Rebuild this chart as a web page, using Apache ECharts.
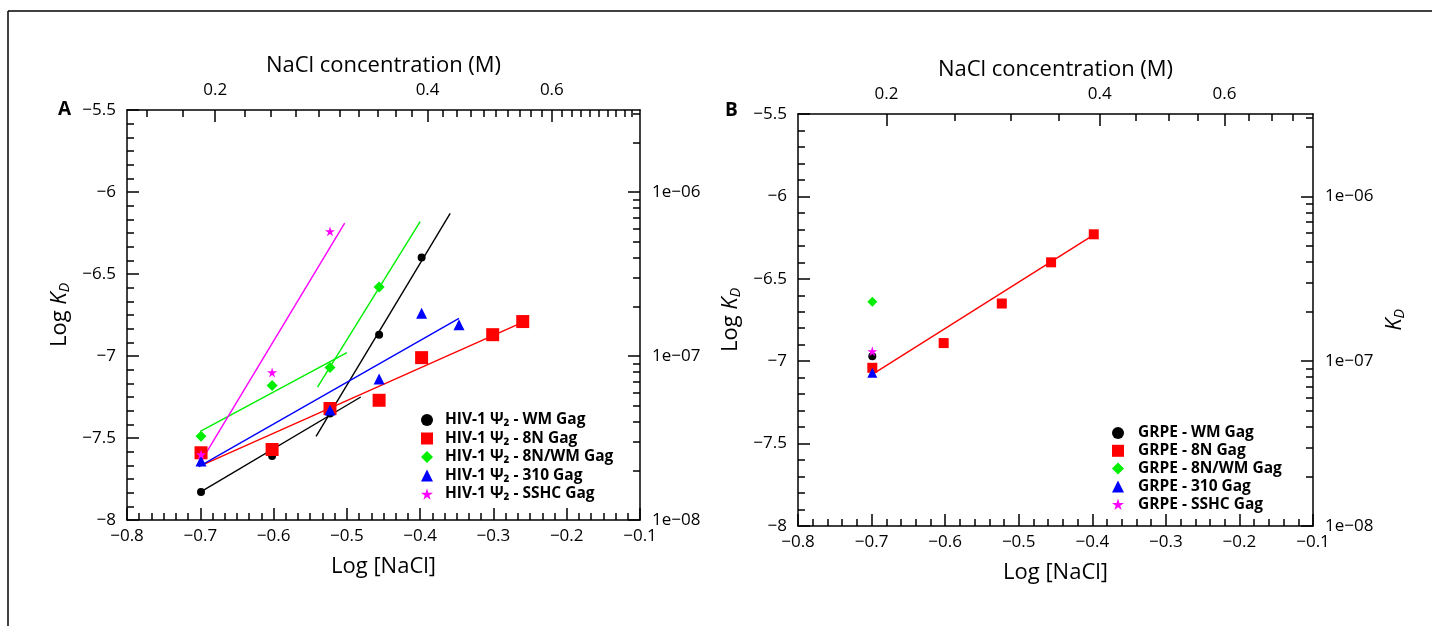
<!DOCTYPE html>
<html>
<head>
<meta charset="utf-8">
<title>KD vs NaCl</title>
<script src="https://cdn.jsdelivr.net/npm/echarts@6.0.0/dist/echarts.min.js"></script>
<style>
  html, body { margin: 0; padding: 0; background: #fff; }
  #chart { width: 1432px; height: 626px; }
</style>
</head>
<body>
<div id="chart"></div>
<script>
// ---- panel A : HIV-1 Psi2 vs Gag variants (log KD vs log [NaCl]) ----
const xA_WM = [-0.699, -0.602, -0.523, -0.456, -0.398];
const yA_WM = [-7.83, -7.61, -7.35, -6.87, -6.40];
const xA_8N = [-0.699, -0.602, -0.523, -0.456, -0.398, -0.301, -0.260];
const yA_8N = [-7.59, -7.57, -7.32, -7.27, -7.01, -6.87, -6.79];
const xA_8NWM = [-0.699, -0.602, -0.523, -0.456];
const yA_8NWM = [-7.49, -7.18, -7.07, -6.58];
const xA_310 = [-0.699, -0.523, -0.456, -0.398, -0.347];
const yA_310 = [-7.64, -7.33, -7.14, -6.74, -6.81];
const xA_SSHC = [-0.699, -0.602, -0.523];
const yA_SSHC = [-7.60, -7.10, -6.24];

// fitted lines, [x0, y0, x1, y1]
const fitA_WM1 = [-0.700, -7.83, -0.481, -7.25];
const fitA_WM2 = [-0.542, -7.49, -0.359, -6.13];
const fitA_8N = [-0.700, -7.67, -0.258, -6.79];
const fitA_8NWM1 = [-0.700, -7.46, -0.500, -6.98];
const fitA_8NWM2 = [-0.540, -7.19, -0.400, -6.18];
const fitA_310 = [-0.702, -7.675, -0.347, -6.77];
const fitA_SSHC = [-0.700, -7.65, -0.503, -6.19];

// ---- panel B : GRPE ----
const xB_WM = [-0.699];
const yB_WM = [-6.97];
const xB_8N = [-0.699, -0.602, -0.523, -0.456, -0.398];
const yB_8N = [-7.04, -6.89, -6.65, -6.40, -6.23];
const xB_8NWM = [-0.699];
const yB_8NWM = [-6.64];
const xB_310 = [-0.699];
const yB_310 = [-7.07];
const xB_SSHC = [-0.699];
const yB_SSHC = [-6.94];
const fitB_8N = [-0.699, -7.08, -0.397, -6.23];

// axis ticks
const xMajor = [-0.8, -0.7, -0.6, -0.5, -0.4, -0.3, -0.2, -0.1];
const yMajor = [-8, -7.5, -7, -6.5, -6, -5.5];
const topMajor = [0.2, 0.4, 0.6];
const topMinorA = [0.16, 0.18, 0.22, 0.24, 0.26, 0.28, 0.3, 0.32, 0.34, 0.36, 0.38,
  0.42, 0.44, 0.46, 0.48, 0.5, 0.52, 0.54, 0.56, 0.58, 0.62, 0.64, 0.66, 0.68, 0.7, 0.72, 0.74, 0.76, 0.78];
const topMinorB = [0.25, 0.3, 0.35, 0.45, 0.5, 0.55, 0.65, 0.7, 0.75];
const rightMajor = [1e-8, 1e-7, 1e-6];
const rightMinor = [2e-8, 3e-8, 4e-8, 5e-8, 6e-8, 7e-8, 8e-8, 9e-8,
  2e-7, 3e-7, 4e-7, 5e-7, 6e-7, 7e-7, 8e-7, 9e-7, 2e-6, 3e-6];

const namesA = ['HIV-1 \u03a8\u2082 - WM Gag', 'HIV-1 \u03a8\u2082 - 8N Gag', 'HIV-1 \u03a8\u2082 - 8N/WM Gag',
  'HIV-1 \u03a8\u2082 - 310 Gag', 'HIV-1 \u03a8\u2082 - SSHC Gag'];
const namesB = ['GRPE - WM Gag', 'GRPE - 8N Gag', 'GRPE - 8N/WM Gag', 'GRPE - 310 Gag', 'GRPE - SSHC Gag'];

const FONT = '"Open Sans", "DejaVu Sans", sans-serif';
const STAR = 'path://M50,0 L61,35 L98,35 L68,57 L79,91 L50,70 L21,91 L32,57 L2,35 L39,35 Z';
const colors = { black: '#000000', red: '#ff0000', green: '#00ee00', blue: '#0000ff', magenta: '#ff00ff' };

// minor tick positions: each major step split into n parts
function subTicks(majors, n) {
  const out = [];
  for (let i = 0; i < majors.length - 1; i++) {
    for (let k = 1; k < n; k++) out.push(majors[i] + (majors[i + 1] - majors[i]) * k / n);
  }
  return out;
}
function minus(v, digits) {
  const s = digits == null ? String(Math.abs(Math.round(v * 100) / 100)) : Math.abs(v).toFixed(digits);
  return (v < -1e-9 ? '\u2212' : '') + s;
}
function expLabel(v) {
  const e = Math.round(Math.log10(v));
  return '1e' + (e < 0 ? '\u2212' : '+') + String(Math.abs(e)).padStart(2, '0');
}

function scatter(name, xs, ys, gi, symbol, size, color) {
  return {
    name: name, type: 'scatter', xAxisIndex: gi * 4, yAxisIndex: gi * 4,
    symbol: symbol, symbolSize: size, z: 4,
    itemStyle: { color: color, opacity: 1 },
    data: xs.map((x, i) => [x, ys[i]])
  };
}

function fit(seg, gi, color) {
  return {
    type: 'line', xAxisIndex: gi * 4, yAxisIndex: gi * 4, showSymbol: false, z: 3,
    lineStyle: { color: color, width: 1.4 },
    data: [[seg[0], seg[1]], [seg[2], seg[3]]]
  };
}

const axisLine = { show: true, onZero: false, lineStyle: { color: '#000', width: 1.5 } };
const noLine = { show: false };
const tickStyle = { color: '#000', width: 1.5 };
const tickText = { color: '#000', fontSize: 17, fontFamily: FONT };
const nameText = { fontSize: 22, fontFamily: FONT, color: '#000' };
const kdRich = {
  n: { fontSize: 22, fontFamily: FONT, color: '#000', lineHeight: 30, verticalAlign: 'middle' },
  i: { fontSize: 22, fontFamily: FONT, fontStyle: 'italic', color: '#000', lineHeight: 30, verticalAlign: 'middle' },
  s: { fontSize: 14, fontFamily: FONT, fontStyle: 'italic', color: '#000', lineHeight: 14, verticalAlign: 'bottom', padding: [0, 0, 3, 0] }
};

// one axis carrying the long (labelled) ticks, and a bare companion with the short ticks
function majorAxis(o) {
  return Object.assign({
    axisLine: axisLine,
    axisTick: { show: true, inside: true, length: 12, customValues: o.ticks, lineStyle: tickStyle },
    axisLabel: Object.assign({ show: true, margin: o.margin, customValues: o.ticks, formatter: o.fmt }, tickText),
    splitLine: { show: false }
  }, o.base);
}
function minorAxis(base, ticks) {
  return Object.assign({
    axisLine: noLine,
    axisTick: { show: true, inside: true, length: 7, customValues: ticks, lineStyle: tickStyle },
    axisLabel: { show: false }, splitLine: { show: false }
  }, base);
}

function xAxes(gi, split, topMinor) {
  const bottom = { type: 'value', gridIndex: gi, position: 'bottom', min: -0.8, max: -0.1 };
  const top = { type: 'log', logBase: 10, gridIndex: gi, position: 'top', min: 0.15, max: 0.8 };
  return [
    majorAxis({ base: Object.assign({ name: 'Log [NaCl]', nameLocation: 'middle', nameGap: 36, nameTextStyle: nameText }, bottom),
      ticks: xMajor, margin: 8, fmt: v => minus(v, 1) }),
    minorAxis(bottom, subTicks(xMajor, split)),
    majorAxis({ base: Object.assign({ name: 'NaCl concentration (M)', nameLocation: 'middle', nameGap: 31, nameTextStyle: nameText }, top),
      ticks: topMajor, margin: 11, fmt: v => String(Math.round(v * 10) / 10) }),
    minorAxis(top, topMinor)
  ];
}
function yAxes(gi, split, rightName) {
  const left = { type: 'value', gridIndex: gi, position: 'left', min: -8, max: -5.5 };
  const right = { type: 'log', logBase: 10, gridIndex: gi, position: 'right', min: 1e-8, max: Math.pow(10, -5.5) };
  return [
    majorAxis({ base: Object.assign({ name: '{n|Log }{i|K}{s|D}', nameLocation: 'middle', nameGap: 52, nameRotate: 90,
      nameTextStyle: { rich: kdRich } }, left), ticks: yMajor, margin: 11, fmt: v => minus(v) }),
    minorAxis(left, subTicks(yMajor, split)),
    majorAxis({ base: Object.assign({ name: rightName ? '{i|K}{s|D}' : '', nameLocation: 'middle', nameGap: 67, nameRotate: 90,
      nameTextStyle: { rich: kdRich } }, right), ticks: rightMajor, margin: 12, fmt: expLabel }),
    minorAxis(right, rightMinor)
  ];
}

function legend(names, left, top, gap, pad) {
  return {
    data: names, orient: 'vertical', left: left, top: top,
    itemWidth: 12, itemHeight: 12, itemGap: gap,
    textStyle: { fontSize: 15.5, fontWeight: 'bold', fontFamily: FONT, color: '#000', lineHeight: 16, padding: [0, 0, 0, pad] },
    selectedMode: false
  };
}

const chart = echarts.init(document.getElementById('chart'), null, { renderer: 'canvas' });
chart.setOption({
  animation: false,
  backgroundColor: '#fff',
  grid: [
    { left: 127, top: 110, width: 513, height: 410 },
    { left: 798, top: 114, width: 515, height: 412 }
  ],
  xAxis: xAxes(0, 6, topMinorA).concat(xAxes(1, 5, topMinorB)),
  yAxis: yAxes(0, 6, false).concat(yAxes(1, 5, true)),
  legend: [legend(namesA, 416, 407, 2.5, 7), legend(namesB, 1107, 420, 1.8, 9)],
  graphic: [
    { type: 'line', shape: { x1: 8, y1: 11, x2: 1432, y2: 11 }, style: { stroke: '#000', lineWidth: 1.5 } },
    { type: 'line', shape: { x1: 8, y1: 11, x2: 8, y2: 626 }, style: { stroke: '#000', lineWidth: 1.5 } },
    { type: 'text', x: 58, y: 110, style: { text: 'A', font: 'bold 19px ' + FONT, fill: '#000', verticalAlign: 'middle' } },
    { type: 'text', x: 725, y: 111, style: { text: 'B', font: 'bold 19px ' + FONT, fill: '#000', verticalAlign: 'middle' } }
  ],
  series: [
    fit(fitA_WM1, 0, colors.black), fit(fitA_WM2, 0, colors.black),
    fit(fitA_8N, 0, colors.red),
    fit(fitA_8NWM1, 0, colors.green), fit(fitA_8NWM2, 0, colors.green),
    fit(fitA_310, 0, colors.blue),
    fit(fitA_SSHC, 0, colors.magenta),
    scatter(namesA[0], xA_WM, yA_WM, 0, 'circle', 8, colors.black),
    scatter(namesA[1], xA_8N, yA_8N, 0, 'rect', 13, colors.red),
    scatter(namesA[2], xA_8NWM, yA_8NWM, 0, 'diamond', 11, colors.green),
    scatter(namesA[3], xA_310, yA_310, 0, 'triangle', 11, colors.blue),
    scatter(namesA[4], xA_SSHC, yA_SSHC, 0, STAR, 10, colors.magenta),
    fit(fitB_8N, 1, colors.red),
    scatter(namesB[0], xB_WM, yB_WM, 1, 'circle', 8, colors.black),
    scatter(namesB[1], xB_8N, yB_8N, 1, 'rect', 10, colors.red),
    scatter(namesB[2], xB_8NWM, yB_8NWM, 1, 'diamond', 10, colors.green),
    scatter(namesB[3], xB_310, yB_310, 1, 'triangle', 10, colors.blue),
    scatter(namesB[4], xB_SSHC, yB_SSHC, 1, STAR, 10, colors.magenta)
  ]
});
</script>
</body>
</html>
